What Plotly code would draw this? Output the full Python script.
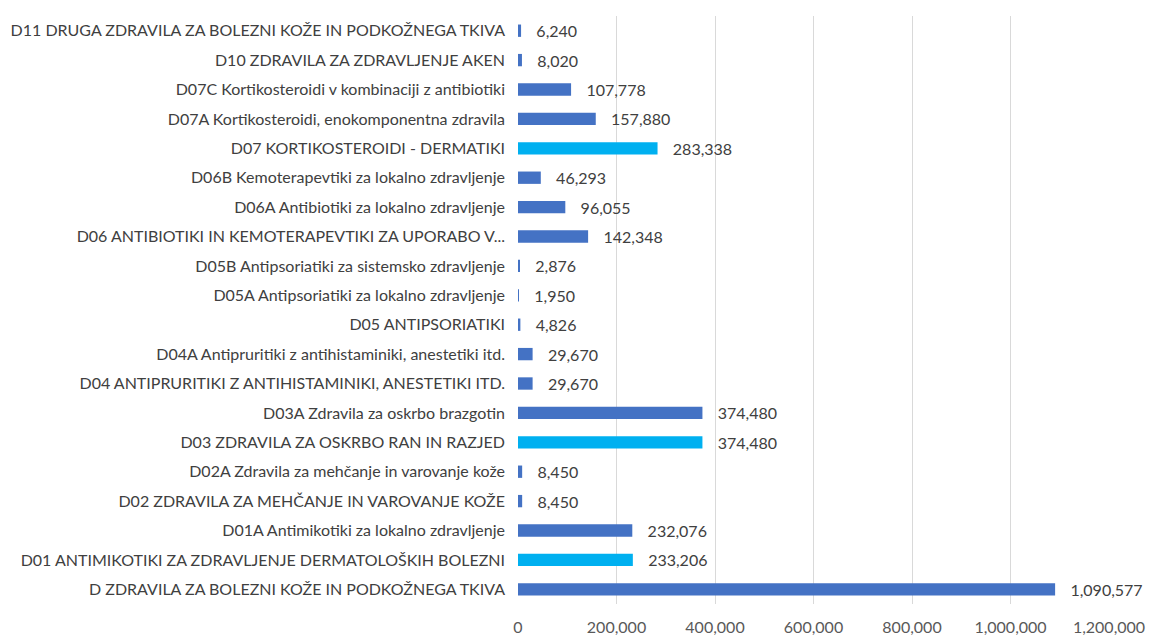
import plotly.graph_objects as go

categories = [
    "D11 DRUGA ZDRAVILA ZA BOLEZNI KOŽE IN PODKOŽNEGA TKIVA",
    "D10 ZDRAVILA ZA ZDRAVLJENJE AKEN",
    "D07C Kortikosteroidi v kombinaciji z antibiotiki",
    "D07A Kortikosteroidi, enokomponentna zdravila",
    "D07 KORTIKOSTEROIDI - DERMATIKI",
    "D06B Kemoterapevtiki za lokalno zdravljenje",
    "D06A Antibiotiki za lokalno zdravljenje",
    "D06 ANTIBIOTIKI IN KEMOTERAPEVTIKI ZA UPORABO V...",
    "D05B Antipsoriatiki za sistemsko zdravljenje",
    "D05A Antipsoriatiki za lokalno zdravljenje",
    "D05 ANTIPSORIATIKI",
    "D04A Antipruritiki z antihistaminiki, anestetiki itd.",
    "D04 ANTIPRURITIKI Z ANTIHISTAMINIKI, ANESTETIKI ITD.",
    "D03A Zdravila za oskrbo brazgotin",
    "D03 ZDRAVILA ZA OSKRBO RAN IN RAZJED",
    "D02A Zdravila za mehčanje in varovanje kože",
    "D02 ZDRAVILA ZA MEHČANJE IN VAROVANJE KOŽE",
    "D01A Antimikotiki za lokalno zdravljenje",
    "D01 ANTIMIKOTIKI ZA ZDRAVLJENJE DERMATOLOŠKIH BOLEZNI",
    "D ZDRAVILA ZA BOLEZNI KOŽE IN PODKOŽNEGA TKIVA",
]
values = [6240, 8020, 107778, 157880, 283338, 46293, 96055, 142348, 2876, 1950,
          4826, 29670, 29670, 374480, 374480, 8450, 8450, 232076, 233206, 1090577]
highlighted = {
    "D07 KORTIKOSTEROIDI - DERMATIKI",
    "D03 ZDRAVILA ZA OSKRBO RAN IN RAZJED",
    "D01 ANTIMIKOTIKI ZA ZDRAVLJENJE DERMATOLOŠKIH BOLEZNI",
}
x_ticks = [0, 200000, 400000, 600000, 800000, 1000000, 1200000]

colors = ["#00B0F0" if c in highlighted else "#4472C4" for c in categories]
texts = [f"   {v:,}" for v in values]

fig = go.Figure(go.Bar(
    x=values, y=categories, orientation="h",
    marker=dict(color=colors, line=dict(width=0)),
    text=texts, textposition="outside", cliponaxis=False,
    constraintext="none",
    textfont=dict(size=16, color="#404040"),
))

fig.update_layout(
    width=1149, height=638,
    margin=dict(l=518, r=40, t=16, b=34),
    paper_bgcolor="white", plot_bgcolor="white",
    font=dict(family="Lato, Open Sans, sans-serif", size=16, color="#404040"),
    bargap=0.58,
    showlegend=False,
    xaxis=dict(range=[0, 1200000], tickvals=x_ticks, tickformat=",",
               showgrid=True, gridcolor="#D9D9D9", gridwidth=1,
               zeroline=False, showline=False, ticks="", automargin=False,
               ticklabelstandoff=12,
               tickfont=dict(size=16, color="#595959")),
    yaxis=dict(autorange="reversed", showgrid=False, showline=False,
               ticks="", ticklabelstandoff=12, automargin=False,
               tickfont=dict(size=16, color="#404040")),
)

fig.write_html(
    "out.html",
    config={"displayModeBar": False},
    post_script="document.body.style.margin='0';document.body.style.overflow='hidden';",
)
